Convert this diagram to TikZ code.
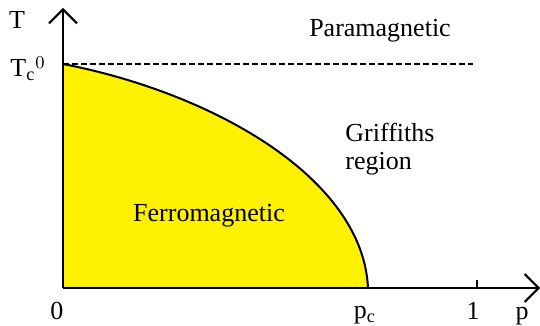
\documentclass[tikz,border=0pt]{standalone}
\usepackage{fontspec}
\setmainfont{Liberation Serif}
\usepackage{tikz}
\usetikzlibrary{arrows.meta, positioning}
\tikzset{
  lbl/.style={font=\fontsize{13}{15}\selectfont, inner sep=0pt},
  axis/.style={line width=1pt, -{Straight Barb[length=7pt, width=14pt]}}
}

\begin{document}
\begin{tikzpicture}[x=0.5pt, y=0.5pt]
  \useasboundingbox (-63,-38) rectangle (477,288);
  \coordinate (o) at (0,0);
  \coordinate (tc) at (0,224);
  \coordinate (pc) at (305,0);
  \coordinate (xend) at (477,0);
  \coordinate (yend) at (0,280);
  \coordinate (dend) at (410,224);
  \coordinate (one) at (414,0);
  \coordinate (onetop) at (414,8);
  \fill[yellow] (o) -- (tc) .. controls (150,195) and (300,110) .. (pc) -- cycle;
  \draw[line width=1pt] (tc) .. controls (150,195) and (300,110) .. (pc);
  \draw[line width=1pt, dash pattern=on 3pt off 1.5pt] (tc) -- (dend);
  \draw[axis] (o) -- (xend);
  \draw[axis] (o) -- (yend);
  \draw[line width=1pt] (one) -- (onetop);
  % labels
  \node[lbl, anchor=base] (tlab) at (-46,259) {T};
  \node[lbl, anchor=base west] (tclab) at (-53,211) {T$_\mathrm{c}$$^0$};
  \node[lbl, anchor=base] (zero) at (-6,-32) {0};
  \node[lbl, anchor=base] (pclab) at (302,-31) {p$_\mathrm{c}$};
  \node[lbl, anchor=base] (onelab) at (410,-32) {1};
  \node[lbl, anchor=base] (plab) at (459,-32) {p};
  \node[lbl, anchor=base] (para) at (317,251) {Paramagnetic};
  \node[lbl, anchor=base west, align=left] (griff) at (282,146) {Griffiths};
  \node[lbl, anchor=base west] (reg) at (282,118) {region};
  \node[lbl, anchor=base] (ferro) at (146,66) {Ferromagnetic};
\end{tikzpicture}
\end{document}
